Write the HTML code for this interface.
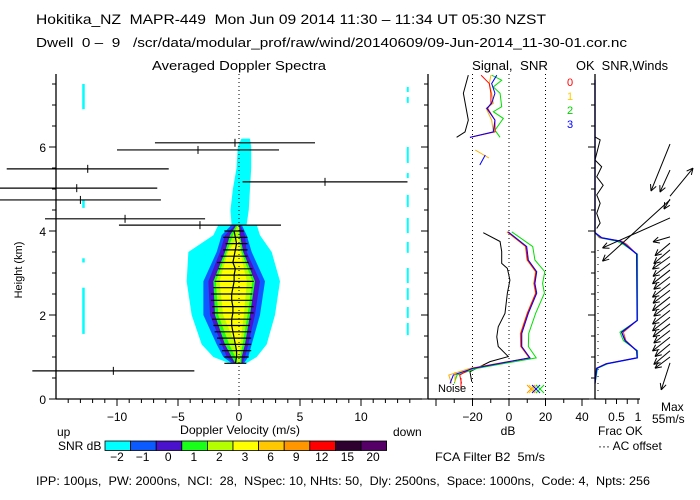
<!DOCTYPE html>
<html><head><meta charset="utf-8"><style>
html,body{margin:0;padding:0;background:#fff;}
svg{display:block;font-family:"Liberation Sans",sans-serif;}
text{fill:#000;white-space:pre;}
</style></head><body>
<svg id="chart" width="700" height="500" viewBox="0 0 700 500" xmlns="http://www.w3.org/2000/svg">
<text x="36" y="24" font-size="14" textLength="510" lengthAdjust="spacingAndGlyphs" xml:space="preserve">Hokitika_NZ  MAPR-449  Mon Jun 09 2014 11:30 – 11:34 UT 05:30 NZST</text>
<text x="36" y="47" font-size="13" textLength="591" lengthAdjust="spacingAndGlyphs" xml:space="preserve">Dwell  0 –  9   /scr/data/modular_prof/raw/wind/20140609/09-Jun-2014_11-30-01.cor.nc</text>
<text x="152" y="70" font-size="13" textLength="174" lengthAdjust="spacingAndGlyphs">Averaged Doppler Spectra</text>
<text x="472" y="70" font-size="13" textLength="76" lengthAdjust="spacingAndGlyphs" xml:space="preserve">Signal,  SNR</text>
<text x="576" y="70" font-size="13" textLength="92" lengthAdjust="spacingAndGlyphs" xml:space="preserve">OK  SNR,Winds</text>
<g id="spec"></g>
<g id="sig"></g>
<g id="wind"></g>
<g id="cbar"></g>
<text x="22" y="270" font-size="11" transform="rotate(-90 22 270)" text-anchor="middle">Height (km)</text>
<text x="240" y="434" font-size="12" text-anchor="middle" textLength="120" lengthAdjust="spacingAndGlyphs">Doppler Velocity (m/s)</text>
<text x="57" y="436" font-size="12">up</text>
<text x="393" y="436" font-size="12">down</text>
<text x="58" y="450" font-size="12">SNR dB</text>
<text x="508" y="435" font-size="12" text-anchor="middle">dB</text>
<text x="598" y="435" font-size="12">Frac OK</text>
<text x="598" y="450" font-size="12">··· AC offset</text>
<text x="661" y="411" font-size="12">Max</text>
<text x="652" y="423" font-size="12">55m/s</text>
<text x="435" y="461" font-size="12" textLength="110" lengthAdjust="spacingAndGlyphs" xml:space="preserve">FCA Filter B2  5m/s</text>
<text x="438" y="392" font-size="11">Noise</text>
<text x="36" y="485" font-size="12" textLength="614" lengthAdjust="spacingAndGlyphs" xml:space="preserve">IPP: 100µs,  PW: 2000ns,  NCI:  28,  NSpec: 10, NHts: 50,  Dly: 2500ns,  Space: 1000ns,  Code: 4,  Npts: 256</text>
</svg>
<script>
// ---- data ----
const contourH = [0.85,1.0,1.3,2.0,2.8,3.5,3.9,4.15];
const cyanL = [-0.8,-2.1,-3.06,-3.88,-4.29,-4.15,-2.1,-1.69];
const cyanR = [0.6,1.45,2.27,2.95,3.36,2.68,1.72,1.45];
const blueL = [-0.6,-1.28,-1.83,-2.92,-2.92,-1.83,-1.42,-0.6];
const blueR = [0.4,0.76,1.04,1.72,2.13,1.04,0.63,0.22];
const purpleL = [-0.4,-1.0,-1.42,-2.38,-2.51,-1.56,-1.15,-0.3];
const purpleR = [0.3,0.5,0.76,1.31,1.72,0.63,0.49,0.1];
const greenL = [-0.3,-0.6,-1.15,-1.97,-2.1,-1.15,-0.74,-0.2];
const greenR = [0.2,0.22,0.49,0.9,1.31,0.35,0.08,0.0];
const ygL = [-0.1,-0.3,-0.8,-1.7,-1.9,-1.0,-0.5,-0.1];
const ygR = [0.1,0.1,0.3,0.7,1.1,0.2,0.0,0.0];
const yelL = [0,0,-0.3,-1.3,-1.6,-0.9,0,0];
const yelR = [0,0,0.1,0.4,0.65,0.1,0,0];
const plumeH = [4.1,4.5,5.0,5.5,6.0,6.2];
const plumeL = [-0.6,-0.7,-0.5,-0.2,-0.1,0.2];
const plumeR = [0.6,0.8,0.9,1.0,1.0,0.9];
const streakLeftH0 = [1.55,3.25,4.55,6.9];
const streakLeftH1 = [2.65,3.35,4.75,7.5];
const streakRightH0 = [1.52,1.93,2.36,2.76,3.48,3.95,4.57,5.26,5.62,7.05,7.31];
const streakRightH1 = [1.81,2.19,2.64,3.12,3.74,4.31,4.86,5.38,6.0,7.19,7.43];
const coreH = [0.85,1.0,1.15,1.3,1.45,1.6,1.75,1.9,2.05,2.2,2.35,2.5,2.65,2.8,2.95,3.1,3.25,3.4,3.55,3.7,3.85,4.0];
const coreMean = [-0.3,-0.2,-0.2,-0.3,-0.4,-0.5,-0.6,-0.6,-0.5,-0.5,-0.6,-0.6,-0.5,-0.4,-0.4,-0.3,-0.5,-0.4,-0.3,-0.2,-0.3,-0.4];
const coreErr = [0.9,1.0,1.2,1.3,1.4,1.5,1.5,1.6,1.7,1.7,1.7,1.7,1.6,1.6,1.5,1.4,1.3,1.1,1.0,0.9,1.0,0.8];
const outH = [6.1,5.93,5.48,5.17,5.02,4.74,4.29,4.14,0.67];
const outMean = [-0.33,-3.36,-12.4,7.05,-13.3,-13.0,-9.34,-3.2,-10.3];
const outErr = [6.56,6.64,6.64,6.76,6.6,6.6,6.56,6.64,6.64];
const cbarLabels = ["-2","-1","0","1","2","3","6","9","12","15","20"];
const cbarColors = ["#00ffff","#0a5aff","#4a12cc","#1aff1a","#b4ff00","#ffff00","#ffc800","#ff9600","#ff0000","#2e0030","#540066"];
// signal panel
const sigLoH = [3.96,3.75,3.51,3.23,3.11,2.83,2.52,2.04,1.72,1.48,1.25,1.01,0.89,0.65,0.41];
const sigLoDB = [-14.1,-4.9,-4.0,-4.0,-0.9,0.5,-0.9,-2.2,-5.9,-6.7,-5.9,-0.4,-10.4,-21.4,-20.4];
const sigHiH = [7.71,7.28,6.64,6.36,6.23];
const sigHiDB = [-22.3,-25.0,-22.3,-24.1,-28.7];
const snrLoH = [3.98,3.63,3.31,3.03,2.75,2.52,2.04,1.56,1.25,0.98,0.73,0.57,0.37];
const snrLoBlue = [-0.4,9.7,10.6,15.2,14.2,15.2,10.6,7.0,7.0,11.5,-19.6,-30.5,-32.3];
const snrLoRed = [-0.8,9.2,10.1,14.8,13.8,14.7,10.1,6.5,6.6,11.2,-20.5,-27.0,-26.0];
const snrLoOrange = [-1.2,9.0,9.8,14.5,13.5,14.5,9.9,6.2,6.4,11.0,-21.5,-33.0,-31.5];
const snrLoGreen = [1.5,13.0,14.2,19.6,18.4,19.4,14.6,10.8,10.6,14.9,-17.5,-28.5,-30.0];
const snrHiH = [7.71,7.51,7.28,7.04,6.92,6.64,6.36,6.23];
const snrHiBlue = [-6.7,-9.5,-7.7,-9.5,-12.2,-7.7,-8.6,-21.4];
const snrHiRed = [-15.3,-10.8,-9.9,-9.9,-11.7,-7.7,-7.7,-21.4];
const snrHiOrange = [-9.9,-10.8,-9.5,-8.6,-12.5,-9.5,-8.6,-21.4];
const snrHiGreenH = [7.71,7.59,7.43,7.28,6.96,6.84,6.68,6.40,6.23];
const snrHiGreen = [-9.5,-4.0,-8.6,-4.9,-4.0,-8.6,-3.1,-7.7,-4.9];
// winds panel
const fracH = [7.6,3.96,3.84,3.76,3.68,3.45,1.87,1.59,1.39,1.15,0.98,0.84,0.73,0.37];
const fracBlue = [0,0,0.155,0.58,0.70,0.97,0.98,0.62,0.70,0.97,0.98,0.27,0.04,0];
const fracRed = [0,0,0.12,0.62,0.74,0.97,0.98,0.66,0.72,0.97,0.98,0.25,0.03,0];
const fracGreen = [0,0,0.10,0.50,0.66,0.99,0.99,0.58,0.66,0.99,0.99,0.30,0.06,0];
const acH = [6.24,6.17,5.69,5.53,5.29,5.09,4.86,4.66,4.42,4.19,4.06];
const acFrac = [0,0.12,0,0.155,0.04,0.19,0.04,0.12,0.04,0.12,0.04];
const windH = [6.07,5.45,4.83,4.76,4.74,4.31,3.86,3.71,3.55,3.39,3.23,3.07,2.91,2.75,2.59,2.43,2.27,2.11,1.95,1.79,1.63,1.47,1.31,1.15,1.0,0.86];
const windU = [-15.2,-8,18.4,-4.8,-54,-54,-13.6,-12,-13,-14,-13.6,-14,-13,-14,-13.6,-14,-13,-14,-14,-13.6,-13,-14,-12,-13,-12,-7];
const windV = [-37.6,-17.6,22.4,-8,-49,-24,-4,-10,-11,-10,-10.4,-11,-10,-11,-10.4,-11,-10,-11,-11,-10.4,-10,-11,-10,-11,-9,-21.6];

// ---- scales ----
const NS = "http://www.w3.org/2000/svg";
const hy = h => 399 - 42*h;
const vx = v => 239 + 12.2*v;
const dx = d => 509 + 1.825*d;
const fx = f => 595 + 43*f;
function mk(parent, tag, attrs){ const e=document.createElementNS(NS,tag); for(const k in attrs) e.setAttribute(k,attrs[k]); parent.appendChild(e); return e; }

const spec = document.getElementById('spec');
function contour(hs, L, R, color, name){
  const pts=[];
  for(let i=0;i<hs.length;i++) pts.push(vx(L[i])+','+hy(hs[i]));
  for(let i=hs.length-1;i>=0;i--) pts.push(vx(R[i])+','+hy(hs[i]));
  const p = mk(spec,'polygon',{points:pts.join(' '),fill:color});
  
  
}
contour(plumeH, plumeL, plumeR, '#00ffff', 'contour-plume');
contour(contourH, cyanL, cyanR, '#00ffff', 'contour-minus2');
contour(contourH, blueL, blueR, '#0a5aff', 'contour-minus1');
contour(contourH, purpleL, purpleR, '#4a12cc', 'contour-0');
contour(contourH, greenL, greenR, '#1aff1a', 'contour-1');
contour(contourH, ygL, ygR, '#b4ff00', 'contour-2');
contour(contourH, yelL, yelR, '#ffff00', 'contour-3');
for(let i=0;i<streakLeftH0.length;i++){
  const r = mk(spec,'rect',{x:vx(-12.85),y:hy(streakLeftH1[i]),width:2.5,height:hy(streakLeftH0[i])-hy(streakLeftH1[i]),fill:'#00ffff'});
  
  
}
for(let i=0;i<streakRightH0.length;i++){
  const r = mk(spec,'rect',{x:vx(13.75),y:hy(streakRightH1[i]),width:2,height:hy(streakRightH0[i])-hy(streakRightH1[i]),fill:'#00ffff'});
  
  
}
mk(spec,'line',{x1:vx(0),y1:74,x2:vx(0),y2:399,stroke:'#000','stroke-dasharray':'1,3'});
const meanPts = coreH.map((h,i)=>vx(coreMean[i])+','+hy(h)).join(' ');
const ml = mk(spec,'polyline',{points:meanPts,fill:'none',stroke:'#000','stroke-width':1.2});


for(let i=0;i<coreH.length;i++){
  const b = mk(spec,'line',{x1:vx(coreMean[i]-coreErr[i]),x2:vx(coreMean[i]+coreErr[i]),y1:hy(coreH[i]),y2:hy(coreH[i]),stroke:'#000','stroke-width':1.2});
  
  
}
for(let i=0;i<outH.length;i++){
  const y=hy(outH[i]);
  const b = mk(spec,'line',{x1:vx(outMean[i]-outErr[i]),x2:vx(outMean[i]+outErr[i]),y1:y,y2:y,stroke:'#000','stroke-width':1.2});
  
  
  mk(spec,'line',{x1:vx(outMean[i]),x2:vx(outMean[i]),y1:y-4,y2:y+4,stroke:'#000'});
}
mk(spec,'line',{x1:56,y1:74,x2:56,y2:399,stroke:'#000','stroke-width':1.3});
mk(spec,'line',{x1:56,y1:399,x2:422,y2:399,stroke:'#000','stroke-width':1.3});
for(let k=0;k<=15;k++){ const h=k*0.5, y=hy(h); mk(spec,'line',{x1:(k%4==0)?49:52,y1:y,x2:56,y2:y,stroke:'#000'});
  if(k%4==0){ const t=mk(spec,'text',{x:46,y:y+5,'font-size':12,'text-anchor':'end'}); t.textContent=String(h);   } }
for(let v=-14;v<=14;v++){ const x=vx(v); mk(spec,'line',{x1:x,y1:399,x2:x,y2:(v%5==0)?406:403,stroke:'#000'});
  if(v%5==0 && Math.abs(v)<=10){ const t=mk(spec,'text',{x:x,y:421,'font-size':12,'text-anchor':'middle'}); t.textContent=v<0?('−'+(-v)):String(v);   } }

const cb = document.getElementById('cbar');
for(let i=0;i<cbarColors.length;i++){
  const x=105+i*25.6;
  const r = mk(cb,'rect',{x:x,y:441,width:25.6,height:9.5,fill:cbarColors[i],stroke:'#000','stroke-width':0.8});
  
  
  const t = mk(cb,'text',{x:x+12,y:461,'font-size':12,'text-anchor':'middle'});
  t.textContent = cbarLabels[i].replace('-','−');
  
  
}

const sg = document.getElementById('sig');
[-20,0,20].forEach(d=>mk(sg,'line',{x1:dx(d),y1:74,x2:dx(d),y2:399,stroke:'#000','stroke-dasharray':'1,3'}));
function pl(g, hs, xs, fxn, color, name, w){
  const p = mk(g,'polyline',{points:hs.map((h,i)=>fxn(xs[i])+','+hy(h)).join(' '),fill:'none',stroke:color,'stroke-width':w||1});
  
  
}
pl(sg, sigLoH, sigLoDB, dx, '#000', 'signal-line-low');
pl(sg, sigHiH, sigHiDB, dx, '#000', 'signal-line-high');
pl(sg, snrLoH, snrLoGreen, dx, '#00e000', 'snr-beam2-low');
pl(sg, snrLoH, snrLoOrange, dx, '#ffb000', 'snr-beam1-low');
pl(sg, snrLoH, snrLoRed, dx, '#ff0000', 'snr-beam0-low');
pl(sg, snrLoH, snrLoBlue, dx, '#0000ff', 'snr-beam3-low');
pl(sg, snrHiGreenH, snrHiGreen, dx, '#00e000', 'snr-beam2-high');
pl(sg, snrHiH, snrHiOrange, dx, '#ffb000', 'snr-beam1-high');
pl(sg, snrHiH, snrHiRed, dx, '#ff0000', 'snr-beam0-high');
pl(sg, snrHiH, snrHiBlue, dx, '#0000ff', 'snr-beam3-high');
mk(sg,'line',{x1:dx(-18.5),y1:150,x2:dx(-11),y2:158,stroke:'#ffb000'});
mk(sg,'line',{x1:dx(-16),y1:165,x2:dx(-13),y2:155,stroke:'#0000ff'});
[['#ff9900',531],['#ffcc00',533],['#0000ff',536],['#00e000',540]].forEach(c=>{
  mk(sg,'line',{x1:c[1]-4,y1:385,x2:c[1]+4,y2:393,stroke:c[0]});
  mk(sg,'line',{x1:c[1]+4,y1:385,x2:c[1]-4,y2:393,stroke:c[0]});
});
mk(sg,'line',{x1:461,y1:378,x2:461,y2:390,stroke:'#ff0000'});
mk(sg,'line',{x1:455,y1:372,x2:455,y2:382,stroke:'#ffb000'});
mk(sg,'line',{x1:428,y1:74,x2:428,y2:399,stroke:'#000','stroke-width':1.3});
mk(sg,'line',{x1:428,y1:399,x2:589,y2:399,stroke:'#000','stroke-width':1.3});
for(let k=0;k<=15;k++){ const y=hy(k*0.5); mk(sg,'line',{x1:(k%4==0)?421:424,y1:y,x2:428,y2:y,stroke:'#000'}); }
for(let d=-40;d<=40;d+=10){ const x=dx(d); mk(sg,'line',{x1:x,y1:399,x2:x,y2:(d%20==0)?406:403,stroke:'#000'});
  if(d%20==0 && d>-40){ const t=mk(sg,'text',{x:x,y:421,'font-size':12,'text-anchor':'middle'}); t.textContent=d<0?('−'+(-d)):String(d);   } }
[['0','#ff0000',86],['1','#ffcc00',100],['2','#00d000',114],['3','#0000ff',128]].forEach(l=>{
  const t=mk(sg,'text',{x:567,y:l[2],'font-size':11,fill:l[1]}); t.style.fill=l[1]; t.textContent=l[0];
   
});

const wd = document.getElementById('wind');
mk(wd,'line',{x1:598,y1:250,x2:598,y2:396,stroke:'#000','stroke-dasharray':'1,6'});
pl(wd, acH, acFrac, fx, '#000', 'ac-offset-line');
pl(wd, fracH, fracGreen, fx, '#00e000', 'frac-ok-beam2');
pl(wd, fracH, fracRed, fx, '#ff4000', 'frac-ok-beam0');
pl(wd, fracH, fracBlue, fx, '#0000ff', 'frac-ok-beam3', 1.3);
for(let i=0;i<windH.length;i++){
  const x0=670, y0=hy(windH[i]);
  const x1=x0+1.25*windU[i], y1=y0-1.25*windV[i];
  const g = mk(wd,'g',{});
  
  
  mk(g,'line',{x1:x0,y1:y0,x2:x1,y2:y1,stroke:'#000'});
  const a=Math.atan2(y1-y0,x1-x0);
  [0.45,-0.45].forEach(o=>mk(g,'line',{x1:x1,y1:y1,x2:x1-7*Math.cos(a+o),y2:y1-7*Math.sin(a+o),stroke:'#000'}));
}
mk(wd,'line',{x1:595,y1:74,x2:595,y2:399,stroke:'#000','stroke-width':1.3});
mk(wd,'line',{x1:595,y1:399,x2:640,y2:399,stroke:'#000','stroke-width':1.3});
for(let k=0;k<=15;k++){ const y=hy(k*0.5); mk(wd,'line',{x1:(k%4==0)?588:591,y1:y,x2:595,y2:y,stroke:'#000'}); }
for(let f=0.25;f<=1.001;f+=0.25){ const x=fx(f); mk(wd,'line',{x1:x,y1:399,x2:x,y2:404,stroke:'#000'}); }
[['0.5',0.5],['1',1]].forEach(l=>{ const t=mk(wd,'text',{x:fx(l[1]),y:421,'font-size':12,'text-anchor':'middle'}); t.textContent=l[0];   });
</script>
</body></html>
